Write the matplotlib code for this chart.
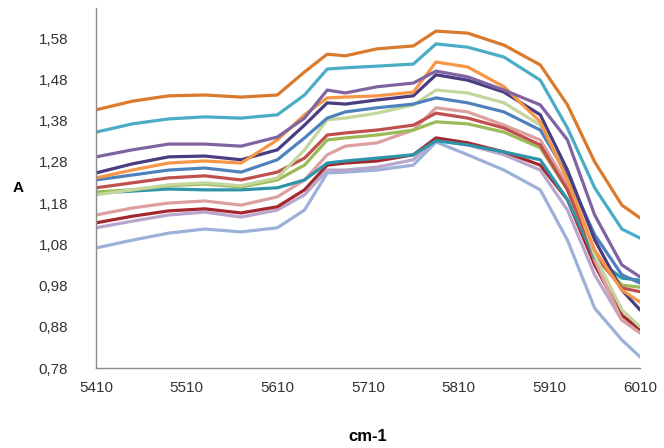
import matplotlib
matplotlib.use("Agg")
import matplotlib.pyplot as plt
from matplotlib.ticker import FuncFormatter

# wavenumber samples (cm-1)
wn = [5410, 5450, 5490, 5530, 5570, 5610, 5640, 5665, 5685, 5720, 5760,
      5785, 5820, 5860, 5900, 5930, 5960, 5990, 6010]
x_ticks = [5410, 5510, 5610, 5710, 5810, 5910, 6010]
y_ticks = [0.78, 0.88, 0.98, 1.08, 1.18, 1.28, 1.38, 1.48, 1.58]

# absorbance spectra, top to bottom at 5410
s_orange_brown = [1.406, 1.427, 1.440, 1.442, 1.437, 1.442, 1.498, 1.541, 1.537, 1.554,
                  1.561, 1.597, 1.592, 1.563, 1.515, 1.418, 1.280, 1.175, 1.144]
s_cyan = [1.352, 1.372, 1.384, 1.389, 1.386, 1.394, 1.442, 1.505, 1.508, 1.512,
          1.517, 1.566, 1.558, 1.534, 1.478, 1.362, 1.217, 1.117, 1.095]
s_purple = [1.292, 1.309, 1.323, 1.323, 1.318, 1.340, 1.386, 1.454, 1.447, 1.462,
            1.471, 1.500, 1.486, 1.454, 1.418, 1.333, 1.151, 1.030, 1.001]
s_navy = [1.253, 1.275, 1.292, 1.294, 1.285, 1.309, 1.369, 1.423, 1.420, 1.430,
          1.440, 1.491, 1.478, 1.449, 1.394, 1.260, 1.091, 0.969, 0.921]
s_orange = [1.241, 1.260, 1.277, 1.282, 1.277, 1.333, 1.394, 1.435, 1.437, 1.440,
            1.449, 1.522, 1.510, 1.462, 1.377, 1.236, 1.066, 0.969, 0.940]
s_blue = [1.236, 1.248, 1.260, 1.265, 1.255, 1.285, 1.338, 1.386, 1.401, 1.411,
          1.420, 1.435, 1.423, 1.401, 1.357, 1.248, 1.103, 1.006, 0.986]
s_red = [1.217, 1.229, 1.241, 1.246, 1.236, 1.255, 1.289, 1.345, 1.350, 1.357,
         1.369, 1.398, 1.386, 1.362, 1.321, 1.212, 1.054, 0.974, 0.965]
s_green = [1.207, 1.212, 1.222, 1.226, 1.219, 1.236, 1.272, 1.333, 1.338, 1.345,
           1.357, 1.377, 1.372, 1.352, 1.314, 1.212, 1.054, 0.981, 0.976]
s_teal = [1.204, 1.209, 1.214, 1.212, 1.212, 1.217, 1.236, 1.277, 1.282, 1.289,
          1.297, 1.331, 1.321, 1.304, 1.285, 1.188, 1.047, 0.998, 0.993]
s_pale_green = [1.200, 1.212, 1.224, 1.229, 1.222, 1.241, 1.309, 1.382, 1.386, 1.398,
                1.418, 1.454, 1.447, 1.423, 1.369, 1.248, 1.054, 0.921, 0.880]
s_pink = [1.151, 1.168, 1.180, 1.185, 1.175, 1.195, 1.236, 1.297, 1.318, 1.326,
          1.357, 1.411, 1.401, 1.369, 1.333, 1.224, 1.042, 0.896, 0.865]
s_dark_red = [1.132, 1.148, 1.161, 1.166, 1.156, 1.171, 1.212, 1.272, 1.277, 1.282,
              1.297, 1.338, 1.326, 1.304, 1.272, 1.188, 1.030, 0.908, 0.874]
s_lavender = [1.120, 1.136, 1.151, 1.158, 1.146, 1.163, 1.200, 1.260, 1.260, 1.267,
              1.285, 1.333, 1.321, 1.297, 1.260, 1.163, 1.006, 0.896, 0.872]
s_blue_gray = [1.071, 1.090, 1.107, 1.117, 1.110, 1.120, 1.163, 1.253, 1.255, 1.260,
               1.272, 1.328, 1.297, 1.260, 1.212, 1.090, 0.925, 0.848, 0.807]

series = [s_blue_gray, s_lavender, s_dark_red, s_pink, s_teal, s_green, s_red,
          s_pale_green, s_blue, s_navy, s_orange, s_purple, s_cyan, s_orange_brown]
colors = ["#9DB1D8", "#B9A6CC", "#A5282E", "#DDA0A0", "#2E95A8", "#9BBB59", "#C0504D",
          "#C3D69B", "#4F81BD", "#4A3C80", "#F79646", "#8064A2", "#4BACC6", "#DA7A2C"]

plt.rcParams['font.family'] = ['Liberation Sans', 'DejaVu Sans']

fig = plt.figure(figsize=(6.64, 4.48), dpi=100)
ax = fig.add_axes([96/664, 1-368/448, 544/664, 360/448])

for y, c in zip(series, colors):
    ax.plot(wn, y, color=c, lw=2.3, solid_joinstyle='round', solid_capstyle='round')

ax.set_xlim(5410, 6010)
ax.set_ylim(0.78, 1.653)
ax.set_xticks(x_ticks)
ax.set_yticks(y_ticks)
ax.yaxis.set_major_formatter(FuncFormatter(lambda v, p: f"{v:.2f}".replace('.', ',')))
ax.tick_params(axis='both', length=0, labelsize=11, colors='#333333')
ax.tick_params(axis='y', pad=20)
ax.tick_params(axis='x', pad=9)
for side in ['top', 'right']:
    ax.spines[side].set_visible(False)
for side in ['left', 'bottom']:
    ax.spines[side].set_color('#8c8c8c')
    ax.spines[side].set_linewidth(1.0)

fig.text(18/664, 1-188/448, "A", fontsize=11, fontweight='bold', ha='center', va='center')
fig.text(368/664, 1-436/448, "cm-1", fontsize=12, fontweight='bold', ha='center', va='center')

fig.savefig("out.png", dpi=100)
